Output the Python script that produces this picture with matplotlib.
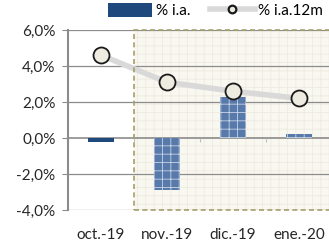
import matplotlib.pyplot as plt
from matplotlib.lines import Line2D
from matplotlib.patches import Rectangle
from matplotlib.ticker import FuncFormatter

plt.rcParams['font.family'] = ['Lato', 'DejaVu Sans']
plt.rcParams['hatch.linewidth'] = 0.6

# data
categories = ["oct.-19", "nov.-19", "dic.-19", "ene.-20"]
ia = [-0.2, -2.9, 2.3, 0.2]
ia_12m = [4.6, 3.1, 2.6, 2.2]

x = list(range(len(categories)))

fig = plt.figure(figsize=(3.29, 2.41), dpi=100)
ax = fig.add_axes([68 / 329, 31 / 241, 264 / 329, 180 / 241])
ax.set_xlim(-0.5, 3.5)
ax.set_ylim(-4, 6)

# shaded projection area
plt.rcParams['hatch.color'] = '#eeebe0'
ax.add_patch(Rectangle((0.5, -4), 3.2, 10, facecolor='#f8f7f0', edgecolor='#eeebe0',
                       hatch='++', lw=0, zorder=0.5, clip_on=True))
ax.add_patch(Rectangle((0.5, -4), 3.2, 10, facecolor='none', edgecolor='#a69f6b',
                       ls=(0, (3, 2)), lw=1.2, zorder=5, clip_on=False))

# grid
for yv in [-4, -2, 2, 4, 6]:
    ax.axhline(yv, color='#8c8c8c', lw=0.9, zorder=1)
ax.axhline(0, color='#8c8c8c', lw=1.2, zorder=1)

# bars
b1 = ax.bar(x[0], ia[0], width=0.4, color='#1f497d', zorder=2)
plt.rcParams['hatch.color'] = '#c9d4e6'
ax.bar(x[1:], ia[1:], width=0.4, color='#587aab', hatch='++', edgecolor='#c9d4e6',
       lw=0, zorder=2)

# line
ax.plot(x, ia_12m, color='#d9d9d9', lw=4, marker='o', ms=11.5, mfc='#eeece1',
        mec='#1a1a1a', mew=1.3, zorder=3)

# axes styling
for s in ['top', 'right']:
    ax.spines[s].set_visible(False)
ax.spines['left'].set_color('#8c8c8c')
ax.spines['left'].set_linewidth(1.5)
ax.set_yticks([-4, -2, 0, 2, 4, 6])
ax.yaxis.set_major_formatter(FuncFormatter(lambda v, p: f"{v:.1f}%".replace('.', ',')))
ax.tick_params(axis='y', length=4, color='#8c8c8c', labelsize=11, labelcolor='#262626', pad=5)

# boundary ticks on zero line
ax.spines['bottom'].set_position(('data', 0))
ax.spines['bottom'].set_color('none')
ax.set_xticks([-0.5, 0.5, 1.5, 2.5, 3.5])
ax.set_xticklabels([])
ax.tick_params(axis='x', length=3, color='#bfbfbf', direction='out')

sec = ax.secondary_xaxis('bottom')
sec.set_xticks(x)
sec.set_xticklabels(categories)
sec.spines['bottom'].set_visible(False)
sec.tick_params(length=0, labelsize=11, labelcolor='#262626', pad=13)

# legend with a smaller marker than the plot
ln_proxy = Line2D([], [], color='#d9d9d9', lw=4, marker='o', ms=5.5, mfc='#eeece1',
                  mec='#1a1a1a', mew=1.6)
fig.legend([b1, ln_proxy], ['% i.a.', '% i.a.12m'], loc='upper left',
           bbox_to_anchor=(94 / 329, 1.045), ncol=2, frameon=False,
           fontsize=11, handlelength=2.9, handleheight=1.0, handletextpad=0.25,
           columnspacing=1.3)

fig.savefig('out.png', dpi=100)
